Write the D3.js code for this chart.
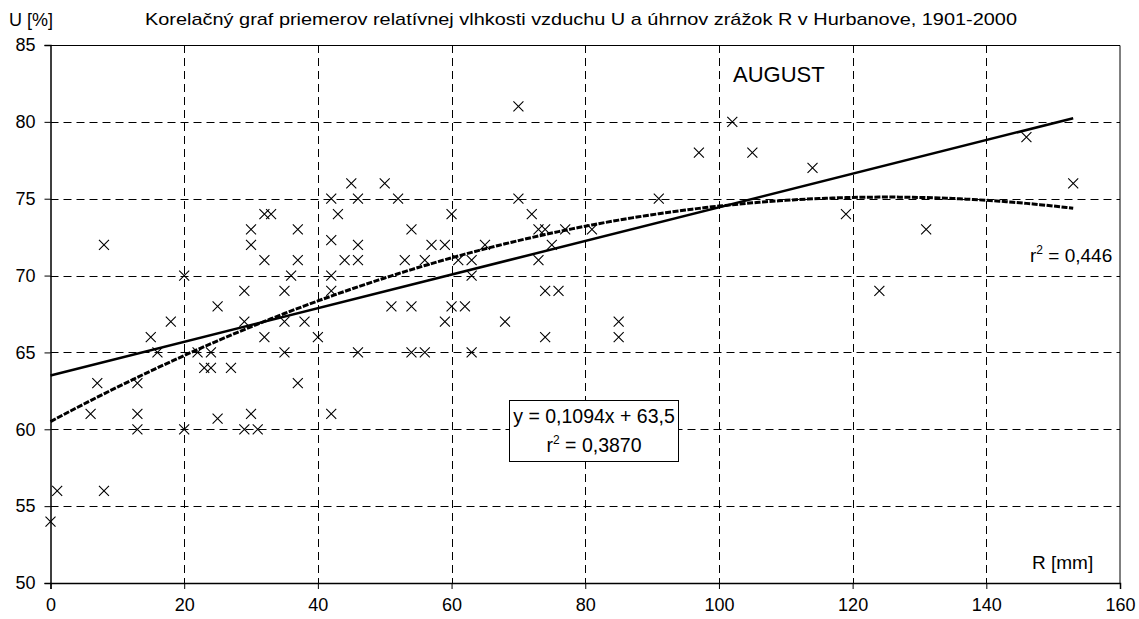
<!DOCTYPE html>
<html>
<head>
<meta charset="utf-8">
<script src="https://cdn.jsdelivr.net/npm/d3@7"></script>
<style>
  body { margin: 0; background: #fff; }
  svg { display: block; font-family: Arial, 'Liberation Sans', sans-serif; }
</style>
</head>
<body>
<svg id="chart" width="1139" height="619"></svg>
<script>
// R [mm] and U [%]
const rain = [0, 1, 6, 7, 8, 8, 13, 13, 13, 15, 16, 18, 20, 20, 22, 23, 24, 24, 25, 25,
  27, 29, 29, 29, 30, 30, 30, 31, 32, 32, 32, 33, 35, 35, 35, 36, 37, 37, 37, 38,
  40, 42, 42, 42, 42, 42, 43, 44, 45, 46, 46, 46, 46, 50, 51, 52, 53, 54, 54, 54,
  56, 56, 57, 59, 59, 60, 60, 61, 62, 63, 63, 63, 65, 68, 70, 70, 72, 73, 73, 74,
  74, 74, 75, 76, 77, 81, 85, 85, 91, 97, 102, 105, 114, 119, 124, 131, 146, 153]
const humidity = [54, 56, 61, 63, 56, 72, 60, 61, 63, 66, 65, 67, 60, 70, 65, 64, 64, 65, 60.7, 68,
  64, 60, 67, 69, 61, 72, 73, 60, 66, 71, 74, 74, 65, 67, 69, 70, 63, 71, 73, 67,
  66, 61, 69, 70, 72.3, 75, 74, 71, 76, 65, 71, 72, 75, 76, 68, 75, 71, 65, 68, 73,
  65, 71, 72, 67, 72, 68, 74, 71, 68, 65, 70, 71, 72, 67, 75, 81, 74, 71, 73, 66,
  69, 73, 72, 69, 73, 73, 66, 67, 75, 78, 80, 78, 77, 74, 69, 73, 79, 76]

const xTicks = [0, 20, 40, 60, 80, 100, 120, 140, 160]
const yTicks = [50, 55, 60, 65, 70, 75, 80, 85]

// trend lines: linear (from label) and 2nd order polynomial
const linCoef = [63.5, 0.1094]
const polyCoef = [60.5, 0.2336, -0.000934]
const trendRange = [0, 153]

const svg = d3.select('#chart')
const margin = { left: 50.5, right: 19, top: 45, bottom: 36 }
const W = 1139, H = 619

const x = d3.scaleLinear().domain([0, 160]).range([margin.left, W - margin.right])
const y = d3.scaleLinear().domain([50, 85]).range([H - margin.bottom, margin.top])

// grid
const grid = svg.append('g').attr('stroke', '#000').attr('stroke-width', 1).attr('stroke-dasharray', '8,5')
grid.selectAll('.gx').data(xTicks.slice(1, -1)).join('line')
  .attr('x1', d => Math.round(x(d)) + 0.5).attr('x2', d => Math.round(x(d)) + 0.5)
  .attr('y1', y(85)).attr('y2', y(50))
grid.selectAll('.gy').data(yTicks.slice(1, -1)).join('line')
  .attr('x1', x(0)).attr('x2', x(160))
  .attr('y1', d => Math.round(y(d)) + 0.5).attr('y2', d => Math.round(y(d)) + 0.5)

// frame top/right
svg.append('path')
  .attr('d', `M${x(0)},${y(85) + 0.5}H${x(160)}V${y(50)}`)
  .attr('fill', 'none').attr('stroke', '#000').attr('stroke-width', 1)

// axes
const xAxis = d3.axisBottom(x).tickValues(xTicks).tickSize(6).tickPadding(9)
const yAxis = d3.axisLeft(y).tickValues(yTicks).tickSize(6).tickPadding(9)

const gx = svg.append('g').attr('transform', `translate(0,${y(50)})`).call(xAxis)
const gy = svg.append('g').attr('transform', `translate(${x(0)},0)`).call(yAxis)
gx.select('.domain').attr('stroke-width', 1.5)
gy.select('.domain').attr('stroke-width', 1.5)
gx.selectAll('text').attr('font-size', 18).attr('fill', '#000').attr('font-family', 'Arial, Liberation Sans')
gy.selectAll('text').attr('font-size', 18).attr('fill', '#000').attr('font-family', 'Arial, Liberation Sans')

// trend lines
const xs = d3.range(trendRange[0], trendRange[1] + 0.5, 1)
const line = d3.line().x(d => x(d[0])).y(d => y(d[1]))

svg.append('path')
  .datum(trendRange.map(v => [v, linCoef[0] + linCoef[1] * v]))
  .attr('d', line).attr('fill', 'none').attr('stroke', '#000').attr('stroke-width', 2.5)

svg.append('path')
  .datum(xs.map(v => [v, polyCoef[0] + polyCoef[1] * v + polyCoef[2] * v * v]))
  .attr('d', line).attr('fill', 'none').attr('stroke', '#000')
  .attr('stroke-width', 3).attr('stroke-dasharray', '6,1.5')

// points (x markers)
const s = 5
svg.append('g').selectAll('path').data(rain.map((r, i) => [r, humidity[i]])).join('path')
  .attr('d', d => {
    const cx = x(d[0]), cy = y(d[1])
    return `M${cx - s},${cy - s}L${cx + s},${cy + s}M${cx - s},${cy + s}L${cx + s},${cy - s}`
  })
  .attr('stroke', '#000').attr('stroke-width', 1.1).attr('fill', 'none')

// texts
svg.append('text').attr('x', 9).attr('y', 26).attr('font-size', 18).text('U [%]')
svg.append('text').attr('x', 145).attr('y', 25).attr('font-size', 17)
  .attr('textLength', 872).attr('lengthAdjust', 'spacingAndGlyphs')
  .text('Korelačný graf priemerov relatívnej vlhkosti vzduchu U a úhrnov zrážok R v Hurbanove, 1901-2000')
svg.append('text').attr('x', 733).attr('y', 82).attr('font-size', 22).text('AUGUST')
svg.append('text').attr('x', 1032).attr('y', 569).attr('font-size', 19).text('R [mm]')

const r2poly = svg.append('text').attr('x', 1030).attr('y', 262).attr('font-size', 19)
r2poly.append('tspan').text('r')
r2poly.append('tspan').attr('font-size', 12).attr('dy', -8).text('2')
r2poly.append('tspan').attr('dy', 8).text(' = 0,446')

// equation box
svg.append('rect').attr('x', 509.5).attr('y', 400.5).attr('width', 169).attr('height', 61)
  .attr('fill', '#fff').attr('stroke', '#000').attr('stroke-width', 1)
svg.append('text').attr('x', 594).attr('y', 423).attr('text-anchor', 'middle').attr('font-size', 19.5)
  .text('y = 0,1094x + 63,5')
const r2lin = svg.append('text').attr('x', 594).attr('y', 452).attr('text-anchor', 'middle').attr('font-size', 19.5)
r2lin.append('tspan').text('r')
r2lin.append('tspan').attr('font-size', 12).attr('dy', -8).text('2')
r2lin.append('tspan').attr('dy', 8).text(' = 0,3870')
</script>
</body>
</html>
